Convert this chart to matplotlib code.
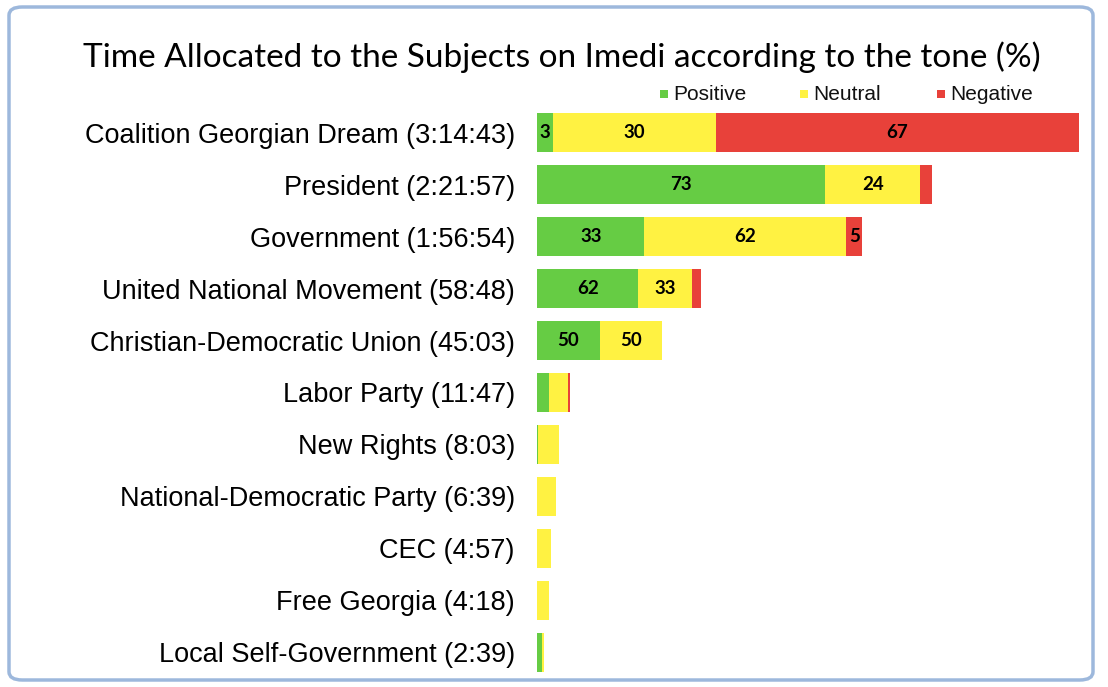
import matplotlib
matplotlib.use("Agg")
import matplotlib.pyplot as plt
from matplotlib.patches import FancyBboxPatch, Rectangle

# ---- data ----
subjects = ["Coalition Georgian Dream (3:14:43)", "President (2:21:57)", "Government (1:56:54)",
            "United National Movement (58:48)", "Christian-Democratic Union (45:03)",
            "Labor Party (11:47)", "New Rights (8:03)", "National-Democratic Party (6:39)",
            "CEC (4:57)", "Free Georgia (4:18)", "Local Self-Government (2:39)"]
# total airtime in seconds
durations = [11683, 8517, 7014, 3528, 2703, 707, 483, 399, 297, 258, 159]
positive = [3, 73, 33, 62, 50, 36, 5, 0, 0, 0, 70]
neutral = [30, 24, 62, 33, 50, 59, 95, 100, 100, 100, 30]
negative = [67, 3, 5, 5, 0, 5, 0, 0, 0, 0, 0]
# rows whose segments carry value labels in the original
labeled_rows = [True, True, True, True, True, False, False, False, False, False, False]
series_names = ["Positive", "Neutral", "Negative"]
colors = ["#66CC44", "#FFF242", "#E8413A"]

W, H = 1108, 687
fig = plt.figure(figsize=(W / 100, H / 100), dpi=100)
fig.patch.set_facecolor("white")

# window-like frame
frame = FancyBboxPatch((9 / W, 7 / H), (1093 - 9) / W, (680 - 7) / H,
                       boxstyle="round,pad=0,rounding_size=0.012",
                       transform=fig.transFigure, facecolor="white",
                       edgecolor="#9DB8DC", linewidth=2.5, zorder=-5)
fig.patches.append(frame)

ax = fig.add_axes([537 / W, 1 - 678 / H, 542 / W, 571 / H])
ax.set_facecolor("none")
ax.set_zorder(2)
n = len(subjects)
ypos = list(range(n))
left = [0.0] * n
for name, pct, col in zip(series_names, [positive, neutral, negative], colors):
    widths = [d * p / 100 for d, p in zip(durations, pct)]
    ax.barh(ypos, widths, left=left, height=0.75, color=col, label=name,
            edgecolor="none")
    for i, (w, p) in enumerate(zip(widths, pct)):
        if labeled_rows[i] and w >= 300:
            ax.text(left[i] + w / 2, i, f"{p}", ha="center", va="center",
                    fontsize=13.5, fontweight="bold", family="Lato", color="black")
    left = [l + w for l, w in zip(left, widths)]

ax.set_xlim(0, max(durations))
ax.set_ylim(n - 0.5, -0.5)
ax.set_yticks(ypos)
ax.set_yticklabels(subjects, fontsize=19.5, family="Liberation Sans")
ax.tick_params(axis="y", length=0, pad=16)
ax.set_xticks([])
for s in ax.spines.values():
    s.set_visible(False)

fig.text(562 / W, 1 - 57 / H, "Time Allocated to the Subjects on Imedi according to the tone (%)",
         ha="center", va="center", fontsize=24, family="Lato")

# legend drawn manually for exact placement
leg_x = [660, 800, 937]
for x, name, col in zip(leg_x, series_names, colors):
    fig.patches.append(Rectangle((x / W, 1 - 98 / H), 8 / W, 8 / H,
                                 transform=fig.transFigure, facecolor=col,
                                 edgecolor="none", zorder=3))
    fig.text((x + 13) / W, 1 - 94 / H, name, ha="left", va="center",
             fontsize=15, family="Liberation Sans", color="#111111")

fig.savefig("out.png", dpi=100)
